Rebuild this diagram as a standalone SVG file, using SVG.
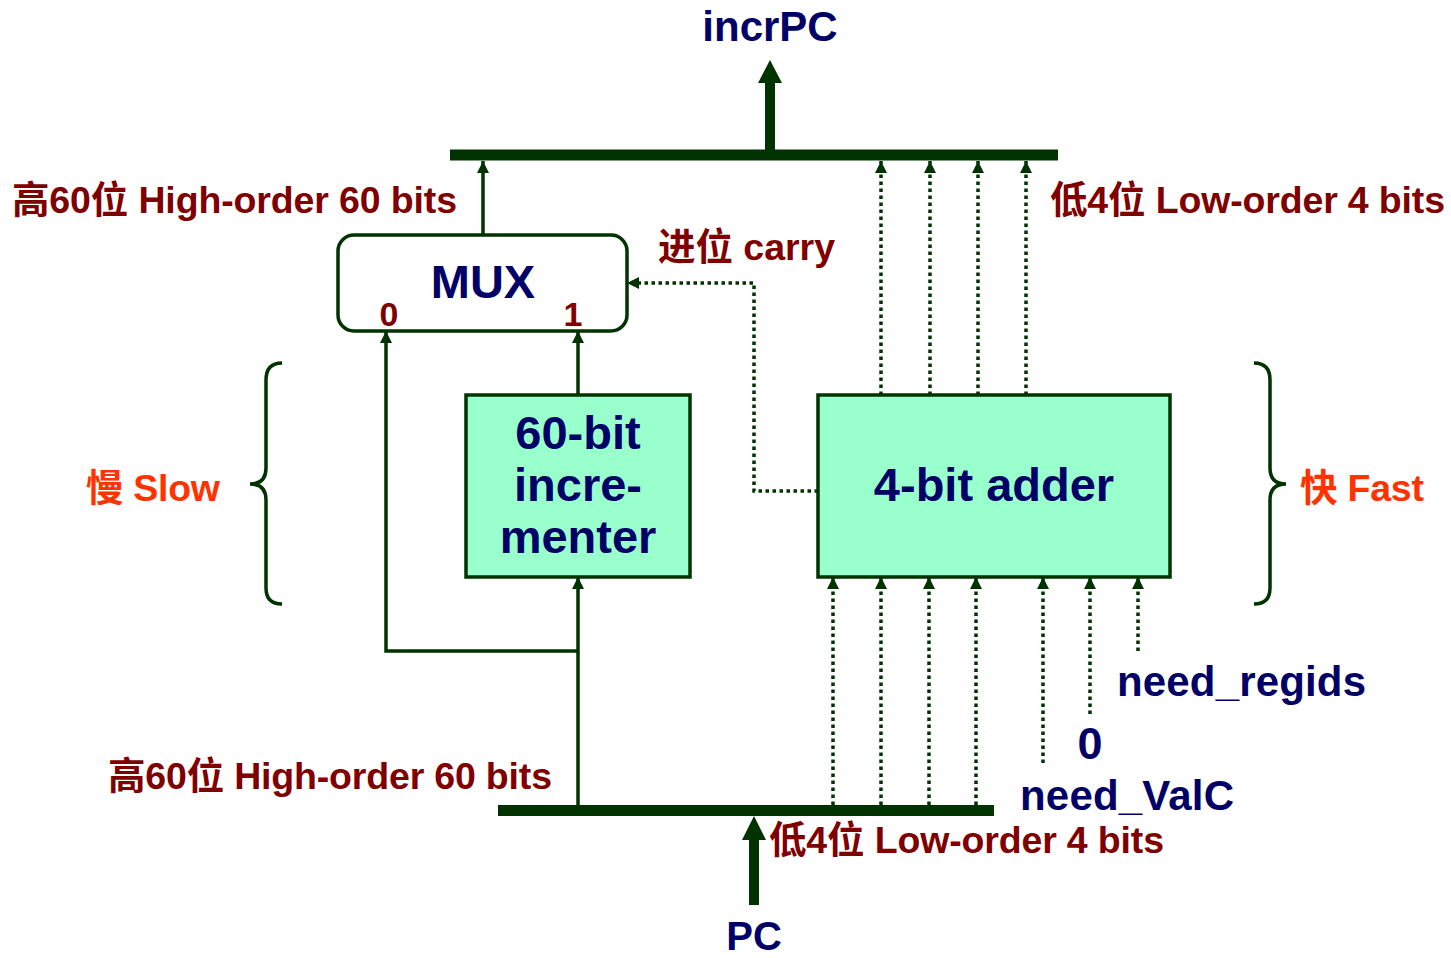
<svg xmlns="http://www.w3.org/2000/svg" width="1451" height="958" viewBox="0 0 1451 958">
<style>
.lbl{font-family:"Liberation Sans","Noto Sans CJK SC",sans-serif;font-weight:bold;font-size:37.5px;fill:#800000}
.nv{font-family:"Liberation Sans","Noto Sans CJK SC",sans-serif;font-weight:bold;fill:#000066}
.or{font-family:"Liberation Sans","Noto Sans CJK SC",sans-serif;font-weight:bold;font-size:37.5px;fill:#FF3300}
.box{fill:#99FFCC;stroke:#003300;stroke-width:3.5}
.w{fill:none;stroke:#003300;stroke-width:3.5}
.d{fill:none;stroke:#003300;stroke-width:3.5;stroke-dasharray:3.5 3.5}
.bus{stroke:#003300;stroke-width:11}
.br{fill:none;stroke:#003300;stroke-width:3.5}
</style>
<defs>
<marker id="a" viewBox="0 0 10 10" refX="10" refY="5" markerWidth="12" markerHeight="12" markerUnits="userSpaceOnUse" orient="auto">
<path d="M0,0 L10,5 L0,10 z" fill="#003300"/>
</marker>
</defs>
<g id="connectors">
<line class="bus" x1="450" y1="155" x2="1058" y2="155"/>
<line class="bus" x1="498" y1="810.5" x2="994" y2="810.5"/>
<polygon points="765,150 775,150 775,83 782,83 770,60 758,83 765,83" fill="#003300"/>
<polygon points="749,905 759,905 759,840 766,840 754,816 742,840 749,840" fill="#003300"/>
<line class="w" x1="483" y1="235" x2="483" y2="161" marker-end="url(#a)"/>
<line class="w" x1="578" y1="395" x2="578" y2="331" marker-end="url(#a)"/>
<polyline class="w" points="578,651 386,651 386,331" marker-end="url(#a)"/>
<line class="w" x1="578" y1="805" x2="578" y2="577" marker-end="url(#a)"/>
<line class="d" x1="881" y1="395" x2="881" y2="161" marker-end="url(#a)"/>
<line class="d" x1="930" y1="395" x2="930" y2="161" marker-end="url(#a)"/>
<line class="d" x1="978" y1="395" x2="978" y2="161" marker-end="url(#a)"/>
<line class="d" x1="1026" y1="395" x2="1026" y2="161" marker-end="url(#a)"/>
<polyline class="d" points="818,491 754,491 754,283 627,283" marker-end="url(#a)"/>
<line class="d" x1="833" y1="805" x2="833" y2="577" marker-end="url(#a)"/>
<line class="d" x1="881" y1="805" x2="881" y2="577" marker-end="url(#a)"/>
<line class="d" x1="929" y1="805" x2="929" y2="577" marker-end="url(#a)"/>
<line class="d" x1="976" y1="805" x2="976" y2="577" marker-end="url(#a)"/>
<line class="d" x1="1043" y1="763" x2="1043" y2="577" marker-end="url(#a)"/>
<line class="d" x1="1090" y1="714" x2="1090" y2="577" marker-end="url(#a)"/>
<line class="d" x1="1138" y1="651" x2="1138" y2="577" marker-end="url(#a)"/>
</g>
<g id="mux">
<rect x="338" y="235" width="289" height="96" rx="16" fill="#fff" stroke="#003300" stroke-width="3.5"/>
<text class="nv" x="483" y="298" font-size="47" text-anchor="middle">MUX</text>
<text class="lbl" x="389" y="326" text-anchor="middle" style="font-size:34px">0</text>
<text class="lbl" x="573" y="326" text-anchor="middle" style="font-size:34px">1</text>
</g>
<g id="incrementer">
<rect class="box" x="466" y="395" width="224" height="182"/>
<text class="nv" x="578" y="449" font-size="47" text-anchor="middle">60-bit</text>
<text class="nv" x="578" y="501" font-size="47" text-anchor="middle">incre-</text>
<text class="nv" x="578" y="553" font-size="47" text-anchor="middle">menter</text>
</g>
<g id="adder">
<rect class="box" x="818" y="395" width="352" height="182"/>
<text class="nv" x="994" y="501" font-size="47" text-anchor="middle">4-bit adder</text>
</g>
<g id="braces">
<path class="br" d="M282,363 Q266,363 266,380 L266,468 Q266,484 250,484 Q266,484 266,500 L266,588 Q266,604 282,604"/>
<path class="br" d="M1254,363 Q1270,363 1270,380 L1270,468 Q1270,484 1286,484 Q1270,484 1270,500 L1270,588 Q1270,604 1254,604"/>
</g>
<g id="labels">
<text class="nv" x="770" y="41" font-size="42" text-anchor="middle">incrPC</text>
<text class="nv" x="754" y="950" font-size="40" text-anchor="middle">PC</text>
<text class="lbl" x="12" y="213" textLength="445">高60位 High-order 60 bits</text>
<text class="lbl" x="1050" y="213" textLength="395">低4位 Low-order 4 bits</text>
<text class="lbl" x="658" y="260" textLength="177">进位 carry</text>
<text class="lbl" x="108" y="789" textLength="444">高60位 High-order 60 bits</text>
<text class="lbl" x="769" y="853" textLength="395">低4位 Low-order 4 bits</text>
<text class="or" x="86" y="501" textLength="134">慢 Slow</text>
<text class="or" x="1300" y="501" textLength="124">快 Fast</text>
<text class="nv" x="1117" y="696" font-size="42" textLength="249">need_regids</text>
<text class="nv" x="1090" y="759" font-size="45" text-anchor="middle">0</text>
<text class="nv" x="1020" y="810" font-size="42" textLength="214">need_ValC</text>
</g>
</svg>
